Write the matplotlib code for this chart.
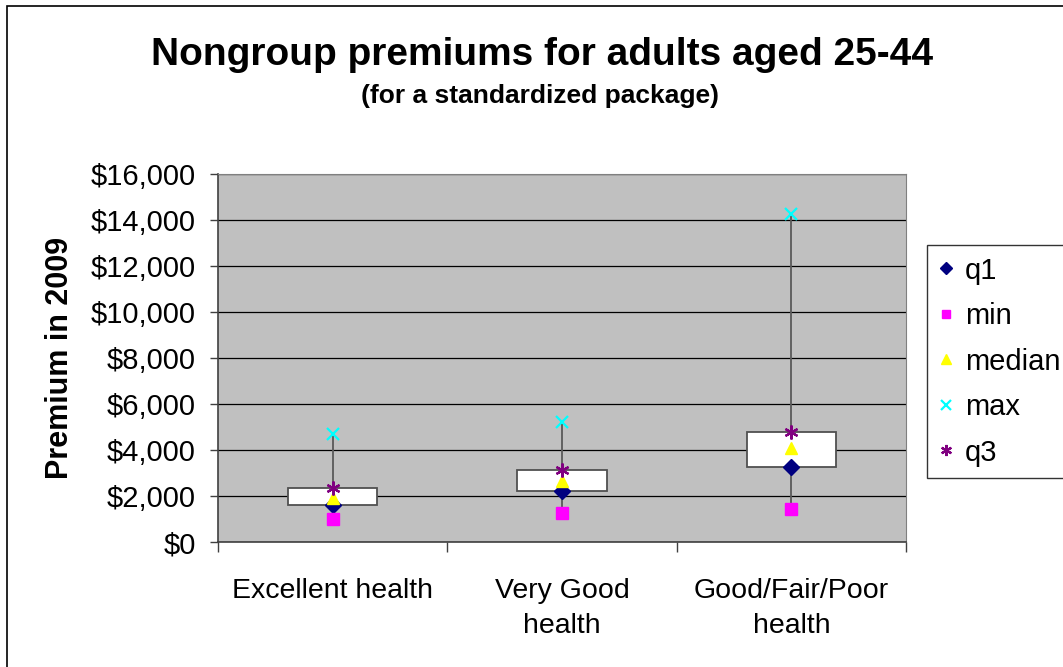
import matplotlib.pyplot as plt
from matplotlib.patches import Rectangle
from matplotlib.ticker import FuncFormatter, FixedLocator

plt.rcParams['font.family'] = ['Liberation Sans', 'DejaVu Sans']

categories = ["Excellent health", "Very Good\nhealth", "Good/Fair/Poor\nhealth"]
q1 = [1600, 2200, 3250]
mins = [1000, 1270, 1430]
median = [1920, 2650, 4070]
maxs = [4700, 5210, 14270]
q3 = [2340, 3130, 4780]

fig = plt.figure(figsize=(10.63, 6.67), dpi=100)
ax = fig.add_axes([218 / 1063, 1 - 542 / 667, 688 / 1063, 368 / 667])
ax.set_facecolor("#C0C0C0")

x = [i + 0.5 for i in range(len(categories))]

# whiskers and boxes
for xi, lo, hi, b0, b1 in zip(x, mins, maxs, q1, q3):
    ax.plot([xi, xi], [lo, hi], color="#5A5A5A", lw=1.3, zorder=2)
    ax.add_patch(Rectangle((xi - 0.195, b0), 0.39, b1 - b0, facecolor="white",
                           edgecolor="#505050", lw=1.3, zorder=3))

ax.plot(x, q1, ls="none", marker="D", color="#000080", ms=8, label="q1", zorder=5)
ax.plot(x, mins, ls="none", marker="s", color="#FF00FF", ms=8, label="min", zorder=5)
ax.plot(x, median, ls="none", marker="^", color="#FFFF00", ms=9, label="median", zorder=5)
ax.plot(x, maxs, ls="none", marker="x", color="#00FFFF", ms=9, mew=1.6, label="max", zorder=5)
ax.plot(x, q3, ls="none", marker=(6, 2, 0), color="#800080", ms=10, mew=1.6, label="q3", zorder=5)

ax.set_xlim(0, 3)
ax.set_ylim(0, 16000)
ax.set_yticks(range(0, 16001, 2000))
ax.yaxis.set_major_formatter(FuncFormatter(lambda v, p: f"${v:,.0f}"))
ax.yaxis.grid(True, color="black", lw=0.9)
ax.set_axisbelow(True)

ax.set_xticks(x)
ax.set_xticklabels(categories, linespacing=1.45)
ax.xaxis.set_minor_locator(FixedLocator([0, 1, 2, 3]))
ax.tick_params(axis="x", which="major", length=0, pad=26, labelsize=20.5)
ax.tick_params(axis="x", which="minor", length=7, width=1, color="#404040")
ax.tick_params(axis="y", length=6, width=1, color="#404040", labelsize=21, pad=10)

for side in ["top", "right"]:
    ax.spines[side].set_color("#808080")
for side in ["left", "bottom"]:
    ax.spines[side].set_color("#404040")
    ax.spines[side].set_linewidth(1.2)

ax.set_ylabel("Premium in 2009", fontsize=22, fontweight="bold", labelpad=11)

fig.text(542 / 1063, 1 - 55 / 667, "Nongroup premiums for adults aged 25-44",
         ha="center", va="center", fontsize=28, fontweight="bold")
fig.text(540 / 1063, 1 - 96 / 667, "(for a standardized package)",
         ha="center", va="center", fontsize=19, fontweight="bold")

leg = ax.legend(loc="upper left", bbox_to_anchor=(927 / 1063, 1 - 245 / 667),
                bbox_transform=fig.transFigure, fontsize=21, frameon=True,
                fancybox=False, edgecolor="black", markerscale=0.8,
                handlelength=0.5, handletextpad=0.4, labelspacing=0.6,
                borderpad=0.4, borderaxespad=0)
leg.get_frame().set_linewidth(1)

# outer chart border
fig.patches.append(Rectangle((7 / 1063, -0.1), 1.2, 1 - 6 / 667 + 0.1,
                             transform=fig.transFigure, fill=False,
                             edgecolor="black", lw=1.2))

fig.savefig("out.png", dpi=100)
